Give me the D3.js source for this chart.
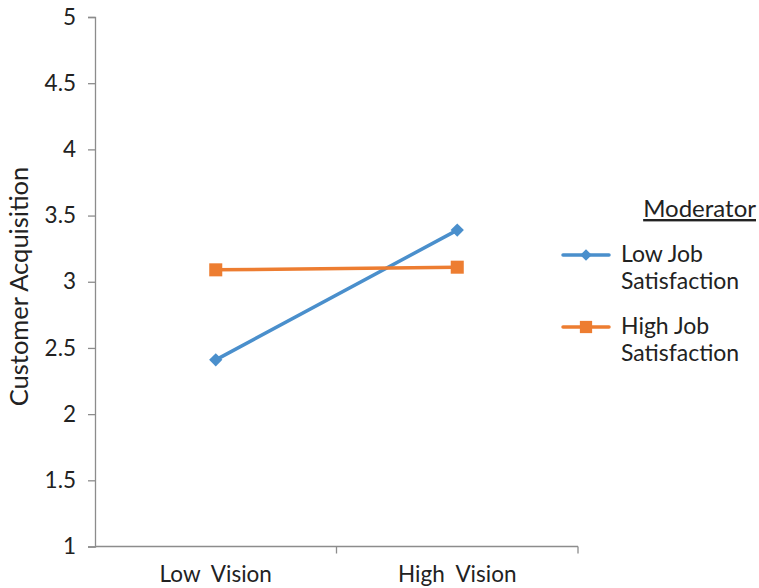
<!DOCTYPE html>
<html>
<head>
<meta charset="utf-8">
<script src="https://cdn.jsdelivr.net/npm/d3@7"></script>
<style>
  html, body { margin: 0; padding: 0; background: #fff; }
  svg { display: block; font-family: Lato, "Open Sans", sans-serif; }
</style>
</head>
<body>
<svg id="chart" width="759" height="588"></svg>
<script>
// Interaction plot: customer acquisition by vision level, moderated by job satisfaction
const categories = ["Low  Vision", "High  Vision"];
const seriesNames = ["Low Job Satisfaction", "High Job Satisfaction"];
const lowJobValues = [2.41, 3.39];
const highJobValues = [3.09, 3.11];
const yTicks = [1, 1.5, 2, 2.5, 3, 3.5, 4, 4.5, 5];

const colors = ["#4a8fcc", "#ed7d31"];
const series = [
  { name: seriesNames[0], values: lowJobValues, color: colors[0], marker: "diamond" },
  { name: seriesNames[1], values: highJobValues, color: colors[1], marker: "square" }
];

const svg = d3.select("#chart");
const plot = { left: 95, right: 578, top: 17, bottom: 546.5 };

const x = d3.scaleBand().domain(categories).range([plot.left, plot.right]);
const y = d3.scaleLinear().domain([1, 5]).range([plot.bottom, plot.top]);

const axisColor = "#8c8c8c";
const textColor = "#222";
const font = "Lato, 'Open Sans', sans-serif";
const tickSize = 22.5;
const legendSize = 23;

// Y axis
const yAxis = svg.append("g")
  .attr("transform", `translate(${plot.left},0)`)
  .call(d3.axisLeft(y).tickValues(yTicks).tickSize(7).tickPadding(12)
    .tickFormat(d3.format("")));
yAxis.select(".domain").attr("stroke", axisColor).attr("stroke-width", 1.3);
yAxis.selectAll(".tick line").attr("stroke", axisColor).attr("stroke-width", 1.3);
yAxis.selectAll(".tick text").attr("fill", textColor).attr("font-size", tickSize)
  .attr("font-family", font);

// X axis: ticks sit on category boundaries
const boundaries = categories.map(c => x(c) + x.bandwidth());
const xg = svg.append("g");
xg.append("line")
  .attr("x1", plot.left).attr("x2", plot.right)
  .attr("y1", plot.bottom).attr("y2", plot.bottom)
  .attr("stroke", axisColor).attr("stroke-width", 1.3);
xg.selectAll("line.tick").data(boundaries).join("line")
  .attr("class", "tick")
  .attr("x1", d => d).attr("x2", d => d)
  .attr("y1", plot.bottom).attr("y2", plot.bottom + 7)
  .attr("stroke", axisColor).attr("stroke-width", 1.3);
xg.selectAll("text").data(categories).join("text")
  .attr("x", d => x(d) + x.bandwidth() / 2)
  .attr("y", 582)
  .attr("text-anchor", "middle")
  .attr("fill", textColor)
  .attr("font-size", tickSize)
  .attr("xml:space", "preserve")
  .style("white-space", "pre")
  .text(d => d);

// Y axis title
svg.append("text")
  .attr("transform", "translate(28,286.5) rotate(-90)")
  .attr("text-anchor", "middle")
  .attr("fill", textColor)
  .attr("font-size", 25.5)
  .text("Customer Acquisition");

// Diamonds are squares turned 45 degrees
function markerPath(kind, big) {
  const size = kind === "diamond" ? (big ? 88 : 66) : (big ? 170 : 150);
  return d3.symbol().type(d3.symbolSquare).size(size)();
}
function markerTransform(kind, px, py) {
  return kind === "diamond" ? `translate(${px},${py}) rotate(45)` : `translate(${px},${py})`;
}

// Series lines and markers
const cx = d => x(d) + x.bandwidth() / 2;
series.forEach(s => {
  const pts = categories.map((c, i) => [cx(c), y(s.values[i])]);
  svg.append("path")
    .attr("d", d3.line()(pts))
    .attr("fill", "none")
    .attr("stroke", s.color)
    .attr("stroke-width", 3.5)
    .attr("stroke-linecap", "round");
  svg.selectAll(null).data(pts).join("path")
    .attr("d", markerPath(s.marker, true))
    .attr("transform", p => markerTransform(s.marker, p[0], p[1]))
    .attr("fill", s.color);
});

// Legend
const legend = svg.append("g");
legend.append("text")
  .attr("x", 756).attr("y", 217)
  .attr("text-anchor", "end")
  .attr("fill", textColor)
  .attr("font-size", 24)
  .attr("text-decoration", "underline")
  .text("Moderator");

const legendRows = [
  { s: series[0], lineY: 255, lines: ["Low Job", "Satisfaction"], baseY: 262 },
  { s: series[1], lineY: 327, lines: ["High Job", "Satisfaction"], baseY: 334 }
];
legendRows.forEach(r => {
  legend.append("line")
    .attr("x1", 563).attr("x2", 609)
    .attr("y1", r.lineY).attr("y2", r.lineY)
    .attr("stroke", r.s.color).attr("stroke-width", 3.5)
    .attr("stroke-linecap", "round");
  legend.append("path")
    .attr("d", markerPath(r.s.marker, false))
    .attr("transform", markerTransform(r.s.marker, 586, r.lineY))
    .attr("fill", r.s.color);
  r.lines.forEach((t, i) => {
    legend.append("text")
      .attr("x", 621).attr("y", r.baseY + i * 26.5)
      .attr("fill", textColor)
      .attr("font-size", legendSize)
      .text(t);
  });
});
</script>
</body>
</html>
